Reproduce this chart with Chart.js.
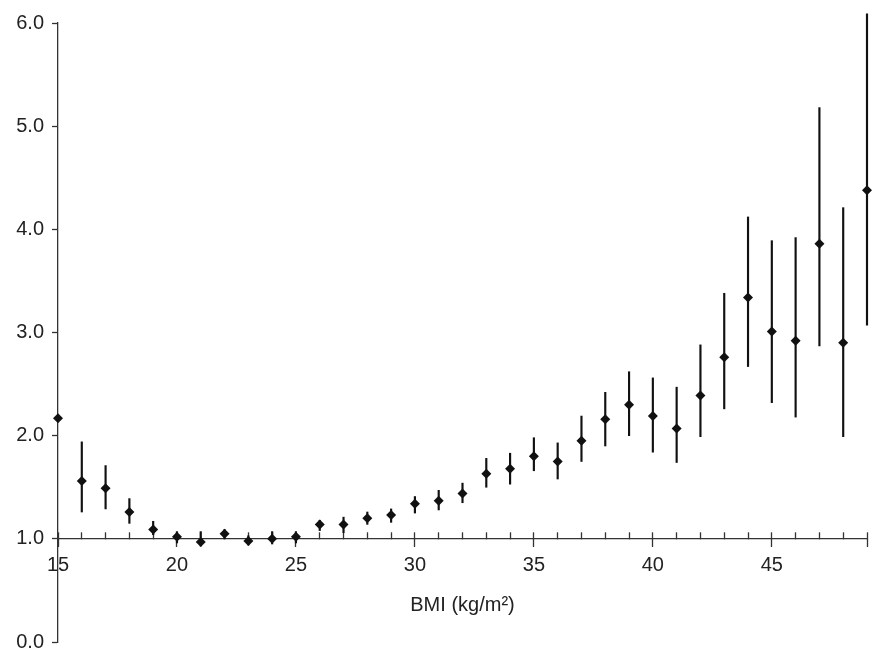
<!DOCTYPE html>
<html lang="en">
<head>
    <meta charset="UTF-8">
    <title>BMI</title>
    <script src="https://cdn.jsdelivr.net/npm/chart.js"></script>
    <style>
        html, body { margin: 0; padding: 0; background: #fff; }
        #wrap { width: 872px; height: 650px; }
    </style>
</head>
<body>
    <div id="wrap"><canvas id="chart"></canvas></div>
    <script>
        const bmi = [15, 16, 17, 18, 19, 20, 21, 22, 23, 24, 25, 26, 27, 28, 29, 30, 31, 32,
                     33, 34, 35, 36, 37, 38, 39, 40, 41, 42, 43, 44, 45, 46, 47, 48, 49];
        const ratio = [2.17, 1.56, 1.49, 1.26, 1.09, 1.02, 0.97, 1.05, 0.98, 1.00, 1.02, 1.14,
                       1.14, 1.20, 1.23, 1.34, 1.37, 1.44, 1.63, 1.68, 1.80, 1.75, 1.95, 2.16,
                       2.30, 2.19, 2.07, 2.39, 2.76, 3.34, 3.01, 2.92, 3.86, 2.90, 4.38];
        const lower = [null, 1.26, 1.29, 1.15, 1.04, 0.96, 0.93, 1.00, 0.94, 0.95, 0.96, 1.08,
                       1.06, 1.14, 1.16, 1.25, 1.28, 1.35, 1.50, 1.53, 1.66, 1.58, 1.75, 1.90,
                       2.00, 1.84, 1.74, 1.99, 2.26, 2.67, 2.32, 2.18, 2.87, 1.99, 3.07];
        const upper = [null, 1.94, 1.71, 1.39, 1.17, 1.07, 1.07, 1.09, 1.03, 1.07, 1.07, 1.18,
                       1.21, 1.26, 1.29, 1.41, 1.47, 1.54, 1.78, 1.83, 1.98, 1.93, 2.19, 2.42,
                       2.62, 2.56, 2.47, 2.88, 3.38, 4.12, 3.89, 3.92, 5.18, 4.21, 6.09];
        const yTicks = [0, 1, 2, 3, 4, 5, 6];

        const ink = '#111';
        const axisColor = '#333';
        const font = { family: '"Liberation Sans", Arial, Helvetica, sans-serif', size: 20 };

        const points = bmi.map((x, i) => ({ x, y: ratio[i] }));
        const bars = [];
        bmi.forEach((x, i) => {
            if (lower[i] !== null) bars.push({ x, y: [lower[i], upper[i]] });
        });

        // label padding of the x scales must not eat into the plot width
        const noSidePad = (s) => { s.paddingLeft = 0; s.paddingRight = 0; };

        const ctx = document.getElementById('chart').getContext('2d');
        new Chart(ctx, {
            data: {
                datasets: [
                    {
                        type: 'scatter',
                        data: points,
                        pointStyle: 'rectRot',
                        pointRadius: 5,
                        backgroundColor: ink,
                        borderWidth: 0,
                        order: 0,
                        clip: false,
                    },
                    {
                        type: 'bar',
                        data: bars,
                        backgroundColor: ink,
                        barThickness: 1.5,
                        borderWidth: 0,
                        order: 1,
                        clip: false,
                    }
                ]
            },
            options: {
                responsive: true,
                maintainAspectRatio: false,
                animation: false,
                layout: { padding: { top: 23, bottom: 8, left: 0, right: -3 } },
                plugins: {
                    legend: { display: false },
                    tooltip: { enabled: false },
                },
                scales: {
                    x: {
                        type: 'linear',
                        position: { y: 1 },
                        min: 15,
                        max: 49,
                        offset: false,
                        afterFit: noSidePad,
                        ticks: {
                            stepSize: 1,
                            autoSkip: false,
                            maxRotation: 0,
                            color: '#222',
                            font: font,
                            padding: 22,
                            callback: (v) => (v % 5 === 0 ? String(v) : ''),
                        },
                        grid: {
                            offset: false,
                            drawOnChartArea: false,
                            tickLength: -7,
                            tickColor: axisColor,
                            tickWidth: 1.3,
                        },
                        border: { color: axisColor, width: 1.3 },
                        title: {
                            display: true,
                            text: 'BMI (kg/m²)',
                            color: '#222',
                            font: font,
                            padding: { top: -6, bottom: 0 },
                        },
                    },
                    x2: {
                        type: 'linear',
                        position: { y: 1 },
                        min: 15,
                        max: 49,
                        offset: false,
                        afterFit: noSidePad,
                        ticks: { stepSize: 5, display: false },
                        grid: {
                            offset: false,
                            drawOnChartArea: false,
                            tickLength: 8,
                            tickColor: axisColor,
                            tickWidth: 1.3,
                        },
                        border: { display: false },
                    },
                    y: {
                        type: 'linear',
                        position: 'left',
                        min: 0,
                        max: 6,
                        afterBuildTicks: (s) => { s.ticks = yTicks.map(v => ({ value: v })); },
                        afterFit: (s) => { s.width = 58; s.paddingTop = 0; s.paddingBottom = 0; },
                        ticks: {
                            color: '#222',
                            font: font,
                            padding: 8,
                            callback: (v) => Number(v).toFixed(1),
                        },
                        grid: {
                            drawOnChartArea: false,
                            tickLength: 6,
                            tickColor: axisColor,
                            tickWidth: 1.3,
                        },
                        border: { color: axisColor, width: 1.3 },
                    }
                }
            }
        });
    </script>
</body>
</html>
